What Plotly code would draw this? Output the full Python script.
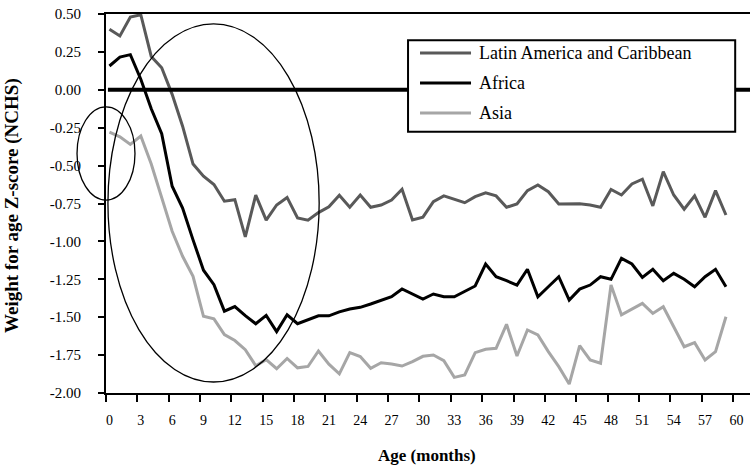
import plotly.graph_objects as go

# ages in months, one point per month
months = list(range(60))

latin = [0.40, 0.355, 0.48, 0.495, 0.22, 0.145, -0.03, -0.24, -0.49, -0.57,
         -0.625, -0.735, -0.725, -0.97, -0.695, -0.86, -0.76, -0.71, -0.845, -0.86,
         -0.81, -0.772, -0.695, -0.775, -0.694, -0.775, -0.76, -0.727, -0.656, -0.859,
         -0.84, -0.738, -0.70, -0.722, -0.745, -0.705, -0.679, -0.70, -0.775, -0.753,
         -0.665, -0.628, -0.672, -0.753, -0.753, -0.752, -0.76, -0.775, -0.657, -0.694,
         -0.621, -0.59, -0.766, -0.54, -0.694, -0.788, -0.70, -0.841, -0.665, -0.826]

africa = [0.157, 0.216, 0.232, 0.07, -0.125, -0.29, -0.636, -0.78, -0.99, -1.19,
          -1.285, -1.46, -1.43, -1.49, -1.543, -1.488, -1.595, -1.484, -1.543, -1.519,
          -1.491, -1.491, -1.465, -1.446, -1.435, -1.413, -1.387, -1.365, -1.314, -1.349,
          -1.38, -1.347, -1.365, -1.365, -1.332, -1.294, -1.149, -1.233, -1.259, -1.288,
          -1.184, -1.365, -1.299, -1.233, -1.387, -1.315, -1.288, -1.233, -1.25, -1.112,
          -1.149, -1.237, -1.184, -1.259, -1.211, -1.25, -1.299, -1.233, -1.184, -1.299]

asia = [-0.279, -0.31, -0.36, -0.305, -0.49, -0.713, -0.933, -1.098, -1.23, -1.494,
        -1.511, -1.615, -1.654, -1.714, -1.82, -1.78, -1.84, -1.772, -1.834, -1.825,
        -1.723, -1.81, -1.874, -1.734, -1.76, -1.837, -1.8, -1.809, -1.822, -1.793,
        -1.758, -1.749, -1.787, -1.897, -1.881, -1.734, -1.712, -1.705, -1.547, -1.756,
        -1.584, -1.617, -1.727, -1.826, -1.941, -1.687, -1.782, -1.804, -1.288, -1.485,
        -1.448, -1.409, -1.475, -1.431, -1.563, -1.695, -1.668, -1.782, -1.727, -1.497]

series_names = ["Latin America and Caribbean", "Africa", "Asia"]
series_colors = ["#595959", "#000000", "#a6a6a6"]

x_label_values = list(range(0, 61, 3))
x_tick_labels = [str(v) for v in x_label_values]
y_tick_values = [0.5, 0.25, 0.0, -0.25, -0.5, -0.75, -1.0, -1.25, -1.5, -1.75, -2.0]
y_tick_labels = ["0.50", "0.25", "0.00", "-0.25", "-0.50", "-0.75", "-1.00",
                 "-1.25", "-1.50", "-1.75", "-2.00"]

FONT = "Liberation Serif"

fig = go.Figure()
for name, vals, col in zip(series_names, [latin, africa, asia], series_colors):
    fig.add_trace(go.Scatter(x=months, y=vals, name=name, mode="lines",
                             line=dict(color=col, width=3), showlegend=False))

# invisible trace so the label axis gets drawn
fig.add_trace(go.Scatter(x=[0], y=[None], xaxis="x2", showlegend=False, hoverinfo="skip"))

xrange = [-0.33, 61.3]
fig.update_layout(
    width=752, height=470,
    margin=dict(l=106, r=2, t=14, b=77),
    paper_bgcolor="white", plot_bgcolor="white",
    font=dict(family=FONT, size=14, color="black"),
    xaxis=dict(range=xrange, tickmode="array",
               tickvals=[v - 0.33 for v in x_label_values],
               showticklabels=False, ticks="outside", ticklen=7, tickwidth=1.5,
               tickcolor="black", showline=True, linecolor="black", linewidth=2,
               mirror=True, showgrid=False, zeroline=False),
    xaxis2=dict(range=xrange, overlaying="x", anchor="y", side="bottom",
                tickmode="array", tickvals=x_label_values, ticktext=x_tick_labels,
                ticks="", ticklabelstandoff=17, showline=False, showgrid=False,
                zeroline=False, tickfont=dict(family=FONT, size=14)),
    yaxis=dict(range=[-2.0, 0.5], tickmode="array", tickvals=y_tick_values,
               ticktext=y_tick_labels, ticks="outside", ticklen=6, tickwidth=1.5,
               tickcolor="black", showline=True, linecolor="black", linewidth=2,
               showgrid=False, zeroline=False, ticklabelstandoff=14,
               tickfont=dict(family=FONT, size=15)),
)

shapes = [
    # thick zero reference line
    dict(type="line", xref="paper", yref="y", x0=0.003, x1=1, y0=0, y1=0,
         line=dict(color="black", width=4), layer="above"),
    # small ellipse around birth values
    dict(type="circle", xref="paper", yref="paper", x0=-0.045, x1=0.045,
         y0=0.509, y1=0.755, line=dict(color="black", width=1.3)),
    # large ellipse around the first 20 months
    dict(type="circle", xref="paper", yref="paper", x0=0.003, x1=0.331,
         y0=0.029, y1=0.974, line=dict(color="black", width=1.3)),
    # legend box
    dict(type="rect", xref="paper", yref="paper", x0=0.469, x1=0.977,
         y0=0.689, y1=0.931, line=dict(color="black", width=2),
         fillcolor="white", layer="above"),
]

annotations = []
legend_rows = [0.897, 0.818, 0.739]
for name, col, yy in zip(series_names, series_colors, legend_rows):
    shapes.append(dict(type="line", xref="paper", yref="paper", x0=0.4876, x1=0.5668,
                       y0=yy, y1=yy, line=dict(color=col, width=3), layer="above"))
    annotations.append(dict(text=name, xref="paper", yref="paper", x=0.576, y=yy,
                            xanchor="left", yanchor="middle", showarrow=False,
                            font=dict(family=FONT, size=18)))

annotations.append(dict(text="<b>Age (months)</b>", xref="paper", yref="paper",
                        x=0.498, y=-0.164, xanchor="center", yanchor="middle",
                        showarrow=False, font=dict(family=FONT, size=17)))
annotations.append(dict(text="<b>Weight for age Z-score (NCHS)</b>", xref="paper",
                        yref="paper", x=-0.146, y=0.496, xanchor="center",
                        yanchor="middle", textangle=-90, showarrow=False,
                        font=dict(family=FONT, size=19)))

fig.update_layout(shapes=shapes, annotations=annotations)

# page body has a default 8px margin; drop it so the chart sits at the corner
fig.write_html("out.html", config={"displayModeBar": False},
               post_script="document.body.style.margin='0';")
